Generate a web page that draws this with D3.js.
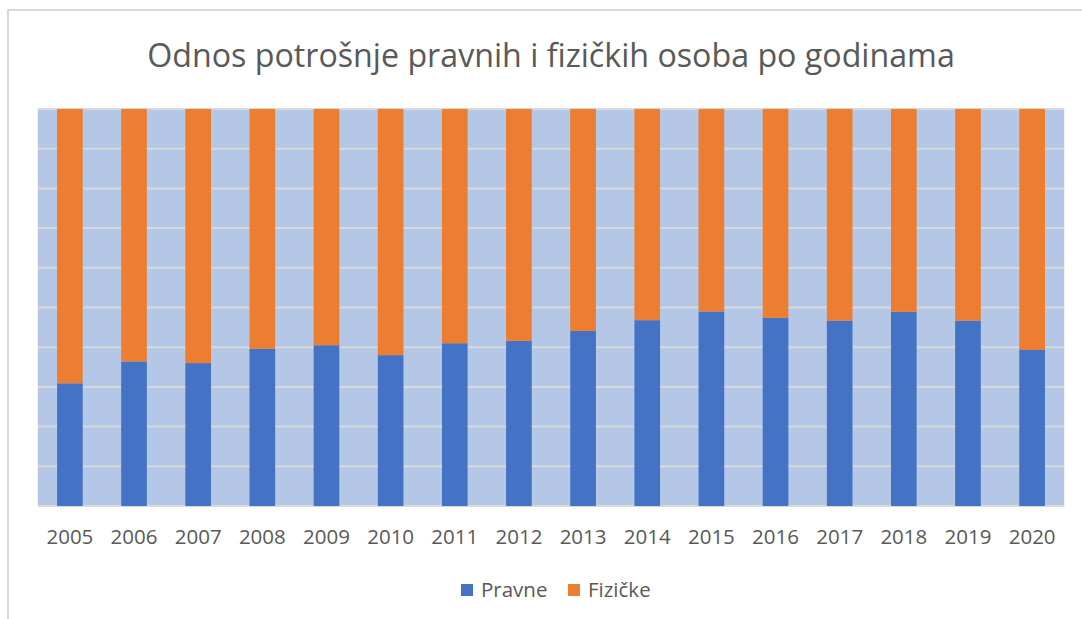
<!DOCTYPE html>
<html>
<head>
<meta charset="utf-8">
<script src="https://cdn.jsdelivr.net/npm/d3@7"></script>
<style>
  body { margin: 0; background: #fff; }
  text { font-family: "Open Sans", "Noto Sans", sans-serif; fill: #595959; }
</style>
</head>
<body>
<svg id="chart" width="1082" height="619"></svg>
<script>
let years = ['2005', '2006', '2007', '2008', '2009', '2010', '2011', '2012',
	'2013', '2014', '2015', '2016', '2017', '2018', '2019', '2020'];
// udio pravnih osoba (ostatak do 1 su fizičke osobe)
let pravne = [0.309, 0.364, 0.360, 0.396, 0.405, 0.380, 0.410, 0.416,
	0.441, 0.468, 0.490, 0.474, 0.467, 0.489, 0.467, 0.393];
let fizicke = pravne.map((p) => 1 - p);
let seriesNames = ['Pravne', 'Fizičke'];
let seriesColors = ['#4472C4', '#ED7D31'];
let titleText = 'Odnos potrošnje pravnih i fizičkih osoba po godinama';

let svg = d3.select('#chart');

// okvir grafikona
svg.append('path')
	.attr('d', 'M8,619 V10 H1082')
	.attr('fill', 'none')
	.attr('stroke', '#d9d9d9')
	.attr('stroke-width', 2);

let plot = { left: 37.8, right: 1064.2, top: 109, bottom: 506 };

let x = d3.scaleBand()
	.domain(years)
	.range([plot.left, plot.right])
	.paddingInner(0.6)
	.paddingOuter(0.3);

let y = d3.scaleLinear()
	.domain([0, 1])
	.range([plot.bottom, plot.top]);

svg.append('rect')
	.attr('x', plot.left)
	.attr('y', plot.top)
	.attr('width', plot.right - plot.left)
	.attr('height', plot.bottom - plot.top)
	.attr('fill', '#B4C7E7');

svg.append('g')
	.selectAll('line')
	.data(y.ticks(10))
	.enter()
	.append('line')
	.attr('x1', plot.left)
	.attr('x2', plot.right)
	.attr('y1', (d) => y(d))
	.attr('y2', (d) => y(d))
	.attr('stroke', '#D9D9D9')
	.attr('stroke-width', 2);

let table = years.map((year, i) => ({ year: year, Pravne: pravne[i], 'Fizičke': fizicke[i] }));
let stacked = d3.stack().keys(seriesNames)(table);

svg.append('g')
	.selectAll('g')
	.data(stacked)
	.enter()
	.append('g')
	.attr('fill', (s, i) => seriesColors[i])
	.selectAll('rect')
	.data((s) => s)
	.enter()
	.append('rect')
	.attr('x', (d) => x(d.data.year))
	.attr('width', x.bandwidth())
	.attr('y', (d) => y(d[1]))
	.attr('height', (d) => y(d[0]) - y(d[1]));

// oznake godina
let xAxis = svg.append('g')
	.attr('transform', 'translate(0,' + plot.bottom + ')')
	.call(d3.axisBottom(x).tickSize(0).tickPadding(0));
xAxis.select('.domain').remove();
xAxis.selectAll('text')
	.attr('y', 38)
	.attr('dy', 0)
	.style('font-size', '20.5px')
	.attr('fill', '#595959');

// naslov
let title = svg.append('text')
	.attr('x', 551)
	.attr('y', 67)
	.attr('text-anchor', 'middle')
	.style('font-size', '28px')
	.text(titleText);
let w = title.node().getComputedTextLength();
title.style('font-size', (28 * 808 / w).toFixed(2) + 'px');

// legenda
let legend = svg.append('g');
let legendX = [461, 568];
seriesNames.forEach((name, i) => {
	legend.append('rect')
		.attr('x', legendX[i])
		.attr('y', 584)
		.attr('width', 12)
		.attr('height', 12)
		.attr('fill', seriesColors[i]);
	legend.append('text')
		.attr('x', legendX[i] + 20)
		.attr('y', 597)
		.style('font-size', '20.5px')
		.text(name);
});
</script>
</body>
</html>
